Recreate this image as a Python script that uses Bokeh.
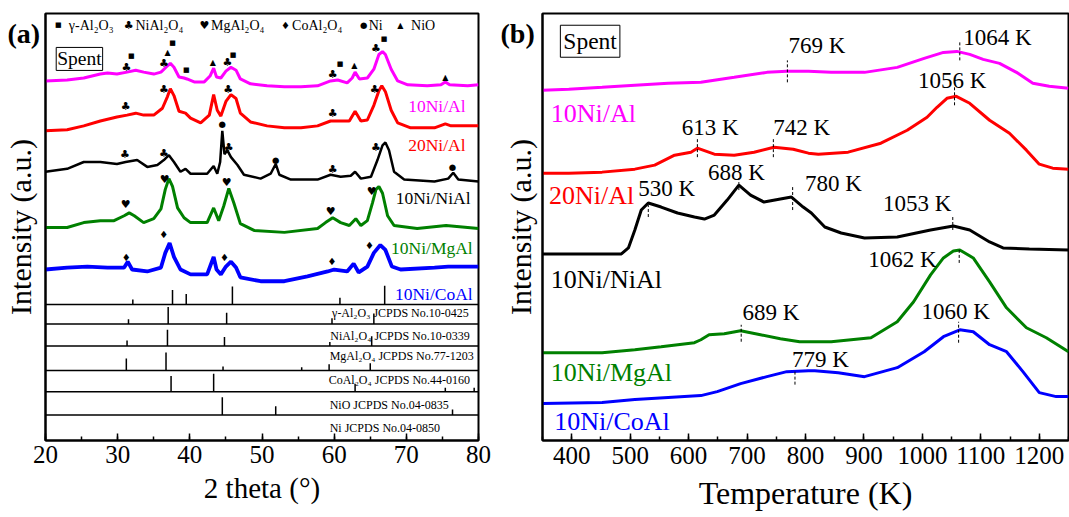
from bokeh.plotting import figure
from bokeh.layouts import row
from bokeh.models import Range1d, FixedTicker, SingleIntervalTicker, Label, Title
from bokeh.core.properties import value
from bokeh.embed import file_html
from bokeh.resources import INLINE

SERIF = "Liberation Serif"
SYM = "DejaVu Sans"

# ---------------- (a) XRD patterns (2 theta in degrees, intensity in a.u., offset) ----------------
xrd_10NiAl_x = [20, 23, 25.3, 27.6, 28.6, 29.9, 31.3, 32.5, 33.6, 35.0, 36.0, 36.7, 37.3, 37.8, 38.5, 39.2, 39.6,
                40.6, 42.0, 42.8, 43.3, 43.7, 44.3, 45.0, 45.7, 46.4, 47.0, 48.4, 50.7, 53.1, 55.4, 57.7, 59.5,
                60.5, 61.8, 62.5, 62.9, 63.5, 64.6, 65.5, 66.2, 66.7, 67.1, 67.9, 68.8, 70.2, 72.9, 74.8, 75.4,
                76.0, 78.5, 80]
xrd_10NiAl_y = [368, 369, 371, 375, 376, 375, 377, 379, 377, 375, 377, 382, 386, 382, 372, 371, 370,
                367, 367, 373, 381, 372, 371, 378, 382, 379, 370, 365, 363, 362, 362, 363, 368,
                369, 366, 371, 377, 370, 371, 380, 395, 398, 395, 380, 368, 364, 363, 364, 367,
                364, 363, 364]

xrd_20NiAl_x = [20, 23, 25.3, 27.6, 29.9, 31.3, 32.5, 33.6, 35.0, 36.2, 36.9, 37.3, 37.8, 38.5, 39.4, 40.1,
                41.5, 42.7, 43.3, 43.8, 44.3, 45.0, 45.7, 46.4, 47.0, 48.4, 50.7, 53.1, 55.4, 57.7, 59.5,
                60.9, 62.1, 62.9, 63.7, 64.6, 65.5, 66.2, 66.6, 67.1, 67.9, 68.8, 70.6, 73.9, 75.4, 76.2, 80]
xrd_20NiAl_y = [317, 318, 322, 327, 331, 333, 335, 333, 333, 340, 352, 360, 353, 337, 335, 330,
                325, 333, 354, 338, 332, 347, 354, 350, 335, 326, 322, 320, 320, 322, 327,
                327, 327, 337, 327, 328, 343, 358, 363, 357, 338, 325, 320, 320, 324, 322, 322]

xrd_10NiNiAl_x = [20, 23, 25.3, 27.6, 29.9, 31.1, 32.7, 34.1, 35.5, 36.4, 37.1, 37.8, 38.7, 39.4, 40.1, 42.4,
                  43.3, 43.8, 44.2, 44.5, 44.8, 45.2, 45.7, 46.6, 47.5, 49.8, 51.2, 51.9, 52.4, 54.0, 57.7,
                  59.5, 60.9, 62.3, 62.9, 63.7, 65.1, 66.0, 66.7, 67.1, 67.6, 68.3, 69.7, 73.9, 75.8, 76.5,
                  77.2, 80]
xrd_10NiNiAl_y = [275, 278, 285, 285, 283, 285, 287, 280, 282, 287, 292, 285, 275, 278, 273, 273,
                  281, 273, 285, 317, 293, 297, 290, 282, 272, 268, 273, 283, 272, 267, 267,
                  272, 270, 271, 275, 268, 270, 287, 302, 305, 297, 275, 267, 265, 268, 274,
                  267, 265]

xrd_10NiMgAl_x = [20, 23, 25.3, 27.6, 29.5, 30.9, 31.6, 32.3, 33.6, 35.0, 36.0, 36.6, 37.1, 37.6, 38.3, 39.2,
                  40.1, 42.4, 43.3, 44.0, 44.7, 45.4, 46.1, 47.0, 48.9, 53.1, 57.7, 58.8, 59.8, 60.9, 62.1,
                  63.0, 63.7, 64.6, 65.3, 65.8, 66.2, 66.7, 67.4, 68.3, 71.5, 75.5, 80]
xrd_10NiMgAl_y = [218, 218, 223, 225, 225, 230, 233, 230, 223, 227, 237, 257, 268, 260, 238, 228,
                  223, 223, 238, 225, 240, 258, 243, 222, 215, 213, 217, 223, 228, 223, 220,
                  227, 220, 225, 243, 257, 260, 253, 230, 220, 217, 220, 217]

xrd_10NiCoAl_x = [20, 23, 25.8, 28.6, 30.9, 31.4, 32.0, 34.1, 36.0, 36.6, 37.2, 37.8, 38.7, 40.1, 42.4, 42.9,
                  43.3, 43.7, 44.3, 45.0, 45.7, 46.4, 47.0, 49.8, 53.1, 56.3, 59.1, 60.0, 61.8, 62.7, 63.4,
                  64.6, 65.5, 66.4, 67.1, 68.0, 69.2, 73.9, 75.8, 78.5, 80]
xrd_10NiCoAl_y = [175, 177, 178, 177, 177, 183, 175, 173, 177, 192, 202, 188, 175, 170, 170, 180,
                  188, 175, 170, 178, 183, 177, 167, 163, 163, 168, 173, 175, 173, 181, 172,
                  178, 192, 200, 195, 178, 175, 177, 178, 178, 178]

xrd_names = ["10Ni/Al", "20Ni/Al", "10Ni/NiAl", "10Ni/MgAl", "10Ni/CoAl"]
xrd_colors = ["#FF00FF", "#FF0000", "#000000", "#008000", "#0000FF"]
xrd_widths = [3, 3, 2.5, 3, 3.8]
xrd_label_x = [78.2, 78.2, 78.9, 79.2, 79.2]
xrd_label_y = [342, 302, 248, 197, 150]

# phase markers on the patterns
mark_x = [31.9, 31.2, 36.9, 36.4, 37.6, 39.5, 43.2, 45.2, 46.0, 60.8, 59.8, 62.8, 65.8, 66.9, 75.4,
          31.1, 36.4, 45.3, 59.8, 65.6,
          31.0, 36.4, 44.5, 45.4, 51.9, 59.8, 65.8, 76.4,
          31.1, 36.5, 45.1, 59.5, 65.2,
          31.2, 36.4, 44.8, 59.7, 64.9]
mark_y = [393, 382, 397, 386, 407, 379, 387, 387, 395, 385, 375, 384, 401, 411, 372,
          342, 359, 359, 335, 359,
          293, 294, 324, 300, 287, 277, 300, 280,
          242, 267, 264, 234, 255,
          187, 211, 187, 183, 200]
mark_sym = ["■", "♣", "▲", "♣", "■", "■", "▲", "♣", "■", "■", "♣", "▲", "♣", "■", "▲",
            "♣", "♣", "♣", "♣", "♣",
            "♣", "♣", "●", "♣", "●", "♣", "♣", "●",
            "♥", "♥", "♥", "♥", "♥",
            "♦", "♦", "♦", "♦", "♦"]

# legend row
legend_sym = ["■", "♣", "♥", "♦", "●", "▲"]
legend_sym_x = [21.76, 31.54, 42.02, 53.24, 64.09, 69.17]
legend_text = ["γ-Al₂O₃", "NiAl₂O₄", "MgAl₂O₄", "CoAl₂O₄", "Ni", "NiO"]
legend_text_x = [23.23, 32.47, 42.95, 54.17, 64.78, 70.65]
legend_y = 425

# standard reference patterns (stick positions and heights)
ref_row_base = [139.3, 119.3, 96.7, 71.7, 50.0, 26.0]
ref_bar_pos = [[32.1, 37.6, 39.5, 45.9, 60.8, 67.0],
               [31.5, 37.0, 45.1, 59.7, 65.5],
               [31.3, 36.9, 44.8, 59.4, 65.2],
               [31.2, 36.7, 44.6, 55.5, 59.3, 65.0],
               [37.4, 43.3, 62.9, 75.4, 79.4],
               [44.5, 51.9, 76.4]]
ref_bar_h = [[5, 14.7, 10.7, 18.4, 6.7, 19],
             [4.7, 17.4, 11.4, 5.7, 10.7],
             [5.7, 16.7, 9.3, 4, 10],
             [12.3, 18.3, 4, 3.3, 6.3, 7.3],
             [16, 18.3, 8, 4, 4],
             [18.3, 9, 5.7]]
ref_text = ["γ-Al₂O₃  JCPDS No.10-0425", "NiAl₂O₄ JCPDS No.10-0339", "MgAl₂O₄  JCPDS No.77-1203",
            "CoAl₂O₄  JCPDS No.44-0160", "NiO  JCPDS No.04-0835", "Ni  JCPDS No.04-0850"]
ref_text_x = [59.71, 59.47, 59.38, 59.24, 59.38, 59.38]
ref_text_y = [130, 106.7, 86.7, 61.7, 36.7, 13.3]

# ---------------- (b) H2-TPR profiles (temperature in K, intensity in a.u., offset) ----------------
tpr_10NiAl_T = [350, 395, 452, 508, 565, 621, 678, 734, 768, 805, 844, 901, 957, 1003, 1036, 1059, 1081,
                1104, 1132, 1161, 1189, 1217, 1250]
tpr_10NiAl_I = [351, 352, 354, 356, 358, 359, 364, 369, 370, 370, 369, 369, 374, 383, 389, 390, 387,
                382, 378, 369, 358, 355, 353]

tpr_20NiAl_T = [350, 395, 452, 508, 542, 576, 604, 615, 644, 678, 712, 746, 779, 805, 822, 873, 929, 974,
                1008, 1025, 1042, 1058, 1081, 1115, 1149, 1178, 1200, 1223, 1250]
tpr_20NiAl_I = [268, 268, 269, 272, 276, 286, 289, 293, 287, 286, 289, 294, 292, 288, 287, 289, 298, 311,
                324, 334, 343, 345, 338, 321, 308, 291, 277, 273, 272]

tpr_10NiNiAl_T = [350, 485, 497, 508, 519, 531, 553, 581, 610, 627, 644, 666, 686, 706, 729, 757, 776, 796,
                  810, 833, 861, 901, 957, 1014, 1053, 1081, 1115, 1138, 1183, 1250]
tpr_10NiNiAl_I = [187, 187, 193, 211, 231, 238, 234, 228, 224, 222, 226, 241, 256, 246, 239, 242, 244, 234,
                  228, 214, 208, 203, 204, 211, 215, 211, 199, 193, 192, 191]

tpr_10NiMgAl_T = [350, 452, 508, 553, 610, 621, 635, 661, 689, 723, 757, 790, 844, 912, 957, 985, 1014,
                  1036, 1053, 1064, 1087, 1115, 1144, 1178, 1212, 1250]
tpr_10NiMgAl_I = [88, 88, 91, 94, 98, 101, 106, 107, 110, 106, 102, 99, 99, 103, 119, 139, 166,
                  183, 190, 191, 183, 159, 133, 113, 103, 89]

tpr_10NiCoAl_T = [350, 452, 508, 565, 621, 649, 689, 734, 768, 805, 816, 856, 901, 957, 1003, 1036, 1064,
                  1087, 1115, 1144, 1172, 1200, 1229, 1250]
tpr_10NiCoAl_I = [37, 38, 41, 43, 45, 49, 57, 64, 69, 70, 70, 68, 64, 73, 89, 104, 111,
                  109, 96, 89, 69, 48, 44, 44]

tpr_label_x = [364, 361, 364, 364, 370]
tpr_label_y = [328, 246, 161, 68, 19]

# peak temperatures marked on the profiles
peak_T = [769, 1064, 1055, 615, 745, 531, 686, 778, 1052, 1063, 690, 1062, 782]
peak_lo = [359, 381, 336, 284, 284, 224, 251, 231, 211, 178, 99, 98, 56]
peak_hi = [381, 401, 354, 304, 304, 236, 263, 254, 224, 191, 116, 119, 69]
peak_text = ["769 K", "1064 K", "1056 K", "613 K", "742 K", "530 K", "688 K", "780 K", "1053 K",
             "1062 K", "689 K", "1060 K", "779 K"]
peak_text_x = [771, 1070, 1051, 637, 745, 514, 682, 799, 991, 966, 692, 1057, 777]
peak_text_y = [396, 404, 361, 314, 314, 253, 269, 258, 238, 181, 128, 129, 81]
peak_text_align = ["left", "left", "center", "center", "left", "left", "center", "left", "center",
                   "center", "left", "center", "left"]

SYM_SIZE = {"■": "7px", "▲": "8px", "●": "8.5px", "♣": "11px", "♥": "11px", "♦": "10px"}


def style(p, ylabel_standoff, tick_standoff):
    p.outline_line_color = "black"
    p.outline_line_width = 2
    p.outline_line_alpha = 1
    p.xgrid.visible = False
    p.ygrid.visible = False
    p.background_fill_color = "white"
    p.border_fill_color = "white"
    ax = p.xaxis[0]
    ax.major_tick_in = 7
    ax.major_tick_out = 0
    ax.minor_tick_in = 4
    ax.minor_tick_out = 0
    ax.axis_line_width = 2
    ax.major_tick_line_width = 1.5
    ax.minor_tick_line_width = 1.5
    ax.major_label_text_font = SERIF
    ax.major_label_text_font_size = "25px"
    ax.major_label_text_color = "black"
    ax.major_label_standoff = tick_standoff
    ay = p.yaxis[0]
    ay.ticker = FixedTicker(ticks=[])
    ay.major_tick_in = 0
    ay.major_tick_out = 0
    ay.minor_tick_in = 0
    ay.minor_tick_out = 0
    ay.major_label_standoff = 0
    ay.axis_line_width = 2
    ay.axis_label = "Intensity (a.u.)"
    ay.axis_label_text_font = SERIF
    ay.axis_label_text_font_size = "30px"
    ay.axis_label_text_font_style = "normal"
    ay.axis_label_text_color = "black"
    ay.axis_label_standoff = ylabel_standoff


def add_titles(p, letter, letter_offset, xtitle, xtitle_size, xtitle_standoff):
    p.add_layout(Title(text=letter, align="left", offset=letter_offset, vertical_align="bottom",
                       standoff=-70, text_font=SERIF, text_font_size="28px",
                       text_font_style="bold", text_color="black"), "above")
    p.add_layout(Title(text=xtitle, align="center", vertical_align="bottom", standoff=xtitle_standoff,
                       text_font=SERIF, text_font_size=xtitle_size, text_font_style="normal",
                       text_color="black"), "below")


# ---------------- panel (a) ----------------
pa = figure(width=500, height=517, x_range=Range1d(20, 80), y_range=Range1d(0, 437),
            output_backend="svg", toolbar_location=None,
            min_border_left=45, min_border_right=22, min_border_top=13, min_border_bottom=67)
pa.xaxis.ticker = SingleIntervalTicker(interval=10, num_minor_ticks=2)
style(pa, 9, 5)
add_titles(pa, "(a)", -38, "2 theta (°)", "29px", 9)

xrd_x = [xrd_10NiAl_x, xrd_20NiAl_x, xrd_10NiNiAl_x, xrd_10NiMgAl_x, xrd_10NiCoAl_x]
xrd_y = [xrd_10NiAl_y, xrd_20NiAl_y, xrd_10NiNiAl_y, xrd_10NiMgAl_y, xrd_10NiCoAl_y]
for xs, ys, c, w in zip(xrd_x, xrd_y, xrd_colors, xrd_widths):
    pa.line(xs, ys, line_color=c, line_width=w)

pa.text(x=xrd_label_x, y=xrd_label_y, text=xrd_names, text_color=xrd_colors,
        text_font=value(SERIF), text_font_size="17.5px", text_align="right", text_baseline="middle")

for s, fs in SYM_SIZE.items():
    xs = [x for x, m in zip(mark_x, mark_sym) if m == s]
    ys = [y for y, m in zip(mark_y, mark_sym) if m == s]
    lx = [x for x, m in zip(legend_sym_x, legend_sym) if m == s]
    xs += lx
    ys += [legend_y] * len(lx)
    pa.text(x=xs, y=ys, text=[s] * len(xs), text_color="black", text_font=value(SYM),
            text_font_size=fs, text_align="center", text_baseline="middle")

pa.text(x=legend_text_x, y=[legend_y] * len(legend_text), text=legend_text, text_color="black",
        text_font=value(SERIF), text_font_size="14px", text_align="left", text_baseline="middle")

# separators of the reference pattern rows
pa.segment(x0=[20] * len(ref_row_base), x1=[80] * len(ref_row_base), y0=ref_row_base, y1=ref_row_base,
           line_color="black", line_width=1.5)
bx, by0, by1 = [], [], []
for base, pos, hs in zip(ref_row_base, ref_bar_pos, ref_bar_h):
    for xp, h in zip(pos, hs):
        bx.append(xp)
        by0.append(base)
        by1.append(base + h)
pa.segment(x0=bx, x1=bx, y0=by0, y1=by1, line_color="black", line_width=1.5)
pa.text(x=ref_text_x, y=ref_text_y, text=ref_text, text_color="black", text_font=value(SERIF),
        text_font_size="12px", text_align="left", text_baseline="middle")

pa.add_layout(Label(x=24.7, y=390.5, text="Spent", text_font=SERIF, text_font_size="19.5px",
                    text_align="center", text_baseline="middle", border_line_color="black",
                    border_line_width=1, padding=1, background_fill_color="white", text_color="black"))

# ---------------- panel (b) ----------------
pb = figure(width=569, height=517, x_range=Range1d(350, 1250), y_range=Range1d(0, 428),
            output_backend="svg", toolbar_location=None,
            min_border_left=39, min_border_right=1, min_border_top=13, min_border_bottom=76)
pb.xaxis.ticker = SingleIntervalTicker(interval=100, num_minor_ticks=2)
style(pb, 6, 6)
add_titles(pb, "(b)", -42, "Temperature (K)", "32px", 13)

tpr_T = [tpr_10NiAl_T, tpr_20NiAl_T, tpr_10NiNiAl_T, tpr_10NiMgAl_T, tpr_10NiCoAl_T]
tpr_I = [tpr_10NiAl_I, tpr_20NiAl_I, tpr_10NiNiAl_I, tpr_10NiMgAl_I, tpr_10NiCoAl_I]
for xs, ys, c in zip(tpr_T, tpr_I, xrd_colors):
    pb.line(xs, ys, line_color=c, line_width=3)

pb.text(x=tpr_label_x, y=tpr_label_y, text=xrd_names, text_color=xrd_colors,
        text_font=value(SERIF), text_font_size="26px", text_align="left", text_baseline="middle")

pb.segment(x0=peak_T, x1=peak_T, y0=peak_lo, y1=peak_hi, line_color="black", line_width=1,
           line_dash="3 2")
pb.text(x=peak_text_x, y=peak_text_y, text=peak_text, text_color="black", text_font=value(SERIF),
        text_font_size="23px", text_align=peak_text_align, text_baseline="middle")

pb.add_layout(Label(x=431.5, y=400.2, text="Spent", text_font=SERIF, text_font_size="23.5px",
                    text_align="center", text_baseline="middle", border_line_color="black",
                    border_line_width=1, padding=3, background_fill_color="white", text_color="black"))

layout = row(pa, pb)
open("out.html", "w").write(file_html(layout, INLINE))
